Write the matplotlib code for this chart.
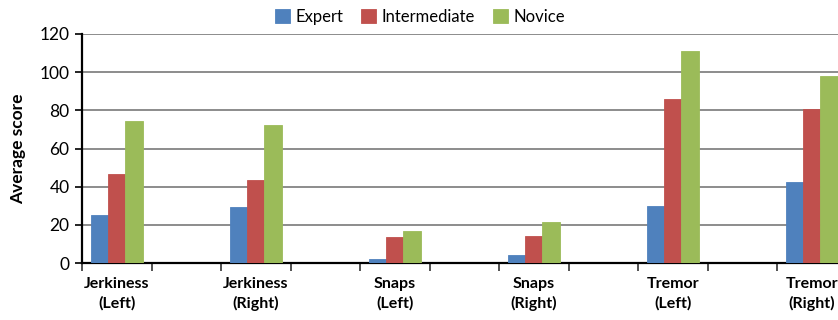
import matplotlib
matplotlib.use("Agg")
import matplotlib.pyplot as plt
import numpy as np

# Average scores per movement metric and skill group
categories = ["Jerkiness\n(Left)", "Jerkiness\n(Right)", "Snaps\n(Left)",
              "Snaps\n(Right)", "Tremor\n(Left)", "Tremor\n(Right)"]
expert = [25.2, 29.5, 1.9, 4.2, 29.9, 42.5]
intermediate = [46.6, 43.5, 13.5, 14.3, 86.1, 80.5]
novice = [74.4, 72.4, 16.8, 21.3, 111.0, 98.0]
series_names = ["Expert", "Intermediate", "Novice"]
y_ticks = [0, 20, 40, 60, 80, 100, 120]

colors = ["#4F81BD", "#C0504D", "#9BBB59"]

plt.rcParams["font.family"] = ["Lato", "DejaVu Sans"]

fig = plt.figure(figsize=(8.38, 3.2), dpi=100)
# every category sits in every other slot, so the axis runs across 12 slots
ax = fig.add_axes([82 / 838, 57 / 320, 834 / 838, 229 / 320])

slots = np.arange(len(categories)) * 2 + 0.5
width = 0.25
for k, (name, vals) in enumerate(zip(series_names, [expert, intermediate, novice])):
    ax.bar(slots + (k - 1) * width, vals, width, color=colors[k],
           edgecolor=colors[k], linewidth=0.6, label=name, zorder=3)

ax.set_xlim(0, 12)
ax.set_ylim(0, 120)
ax.set_yticks(y_ticks)
ax.tick_params(axis="y", labelsize=12.5, length=5, width=1.2, pad=4)

ax.set_xticks(np.arange(0, 13))
ax.set_xticklabels([])
ax.tick_params(axis="x", which="major", length=6, width=1.2, color="#333333")
ax.set_xticks(slots, minor=True)
ax.set_xticklabels(categories, minor=True, fontsize=11.5, fontweight="bold",
                   linespacing=1.45)
ax.tick_params(axis="x", which="minor", length=0, pad=10)

ax.grid(axis="y", color="#8c8c8c", linewidth=1.4, zorder=0)
for side in ["top", "right"]:
    ax.spines[side].set_visible(False)
for side in ["left", "bottom"]:
    ax.spines[side].set_linewidth(1.6)
    ax.spines[side].set_color("black")

ax.set_ylabel("Average score", fontsize=12.5, fontweight="bold", labelpad=10)

fig.legend(loc="center", bbox_to_anchor=(420 / 838, 1 - 17 / 320), ncol=3,
           frameon=False, fontsize=12, handlelength=0.9, handleheight=0.9,
           handletextpad=0.3, columnspacing=1.1)

fig.savefig("out.png", dpi=100)
